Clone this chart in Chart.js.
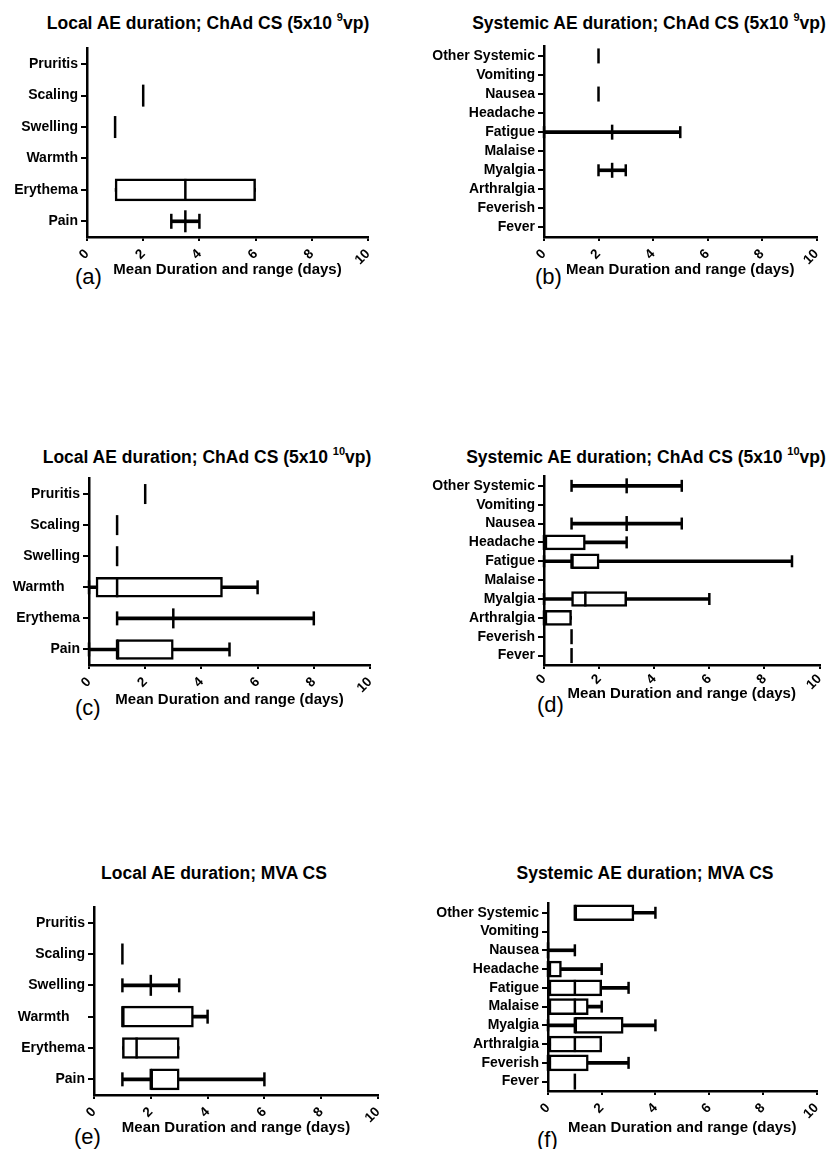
<!DOCTYPE html>
<html>
<head>
<meta charset="utf-8">
<script src="https://cdn.jsdelivr.net/npm/chart.js@4.4.0/dist/chart.umd.min.js"></script>
<style>
body { margin:0; width:833px; height:1149px; background:#fff; position:relative; overflow:hidden; font-family:"Liberation Sans", Arial, sans-serif; }
canvas { position:absolute; }
.title { position:absolute; width:440px; text-align:center; font-weight:bold; font-size:17.5px; line-height:20px; white-space:nowrap; color:#000; }
.title sup { font-size:11px; position:relative; top:-1px; }
.letter { position:absolute; font-size:22px; line-height:24px; color:#000; }
</style>
</head>
<body>

<div class="title" style="left:-12px;top:8px">Local AE duration; ChAd CS (5x10 <sup>9</sup>vp)</div>
<div class="title" style="left:429px;top:8px">Systemic AE duration; ChAd CS (5x10 <sup>9</sup>vp)</div>
<div class="title" style="left:-13px;top:442px">Local AE duration; ChAd CS (5x10 <sup>10</sup>vp)</div>
<div class="title" style="left:426px;top:442px">Systemic AE duration; ChAd CS (5x10 <sup>10</sup>vp)</div>
<div class="title" style="left:-6px;top:863px">Local AE duration; MVA CS</div>
<div class="title" style="left:425px;top:863px">Systemic AE duration; MVA CS</div>

<div class="letter" style="left:75px;top:265px">(a)</div>
<div class="letter" style="left:535px;top:265px">(b)</div>
<div class="letter" style="left:75px;top:696px">(c)</div>
<div class="letter" style="left:537px;top:693px">(d)</div>
<div class="letter" style="left:74px;top:1125px">(e)</div>
<div class="letter" style="left:537px;top:1128px">(f)</div>

<canvas id="a"></canvas>
<canvas id="b"></canvas>
<canvas id="c"></canvas>
<canvas id="d"></canvas>
<canvas id="e"></canvas>
<canvas id="f"></canvas>

<script>
const localCats = ['Pruritis', 'Scaling', 'Swelling', 'Warmth', 'Erythema', 'Pain'];
const localCatsGap = ['Pruritis', 'Scaling', 'Swelling', 'Warmth    ', 'Erythema', 'Pain'];
const systemicCats = ['Other Systemic', 'Vomiting', 'Nausea', 'Headache', 'Fatigue', 'Malaise', 'Myalgia', 'Arthralgia', 'Feverish', 'Fever'];
const xTicks = [0, 2, 4, 6, 8, 10];

// each row: [min, q1, median, q3, max], null when nothing reported
const localChAd9 = [null, [2, 2, 2, 2, 2], [1, 1, 1, 1, 1], null, [1, 1, 3.5, 6, 6], [3, 3.5, 3.5, 3.5, 4]];
const systemicChAd9 = [[2, 2, 2, 2, 2], null, [2, 2, 2, 2, 2], null, [0, 2.5, 2.5, 2.5, 5], null, [2, 2.5, 2.5, 2.5, 3], null, null, null];
const localChAd10 = [[2, 2, 2, 2, 2], [1, 1, 1, 1, 1], [1, 1, 1, 1, 1], [0, 0.25, 1, 4.75, 6], [1, 3, 3, 3, 8], [0, 1, 1, 3, 5]];
const systemicChAd10 = [[1, 3, 3, 3, 5], null, [1, 3, 3, 3, 5], [0, 0, 0, 1.5, 3], [0, 1, 1, 2, 9], null, [0, 1, 1.5, 3, 6], [0, 0, 0, 1, 1], [1, 1, 1, 1, 1], [1, 1, 1, 1, 1]];
const localMVA = [null, [1, 1, 1, 1, 1], [1, 2, 2, 2, 3], [1, 1, 1, 3.5, 4], [1, 1, 1.5, 3, 3], [1, 2, 2, 3, 6]];
const systemicMVA = [[1, 1, 1, 3.2, 4], null, [0, 0, 0, 0, 1], [0, 0, 0, 0.5, 2], [0, 0, 1, 2, 3], [0, 0, 1, 1.5, 2], [0, 1, 1, 2.8, 4], [0, 0, 1, 2, 2], [0, 0, 0, 1.5, 3], [1, 1, 1, 1, 1]];

Chart.defaults.font.family = '"Liberation Sans", Arial, sans-serif';
Chart.defaults.font.weight = 'bold';
Chart.defaults.color = '#000';

const panels = [
  {id: 'a', cats: localCats, rows: localChAd9, left: 0, top: 35, w: 400, h: 246, yW: 87, xH: 44, tp: 5, right: 32, box: 22, med: 11, cap: 7.5},
  {id: 'b', cats: systemicCats, rows: systemicChAd9, left: 415, top: 35, w: 418, h: 246, yW: 129, xH: 44, tp: 5, right: 9, box: 15, med: 7.5, cap: 6},
  {id: 'c', cats: localCatsGap, rows: localChAd10, left: 0, top: 466, w: 400, h: 245, yW: 89, xH: 46, tp: 5, right: 30, box: 20, med: 10, cap: 7},
  {id: 'd', cats: systemicCats, rows: systemicChAd10, left: 415, top: 465, w: 418, h: 240, yW: 129, xH: 40, tp: 2, right: 8, box: 15, med: 7.5, cap: 6},
  {id: 'e', cats: localCatsGap, rows: localMVA, left: 0, top: 894, w: 400, h: 245, yW: 94, xH: 44, tp: 5, right: 22, box: 21, med: 10.5, cap: 7},
  {id: 'f', cats: systemicCats, rows: systemicMVA, left: 415, top: 892, w: 418, h: 247, yW: 133, xH: 48, tp: 5, right: 5, box: 16, med: 8, cap: 6}
];

function drawPanel(p) {
  const cv = document.getElementById(p.id);
  cv.width = p.w; cv.height = p.h;
  cv.style.left = p.left + 'px'; cv.style.top = p.top + 'px';

  const whiskers = p.rows.map(r => r ? [r[0], r[4]] : null);
  const boxes = p.rows.map(r => r && r[3] > r[1] ? [r[1], r[3]] : null);
  const medians = [], caps = [];
  p.rows.forEach((r, i) => {
    if (!r) return;
    medians.push({x: r[2], y: p.cats[i]});
    if (r[0] < r[1]) caps.push({x: r[0], y: p.cats[i]});
    if (r[4] > r[3]) caps.push({x: r[4], y: p.cats[i]});
  });

  new Chart(cv, {
    type: 'bar',
    data: {
      labels: p.cats,
      datasets: [
        {data: whiskers, backgroundColor: '#000', barThickness: 3, grouped: false, order: 3, clip: false},
        {data: boxes, backgroundColor: '#fff', borderColor: '#000', borderWidth: 2.5, borderSkipped: false,
         barThickness: p.box, grouped: false, order: 2, clip: false},
        {type: 'line', data: caps, showLine: false, pointStyle: 'line', rotation: 90, radius: p.cap,
         borderColor: '#000', borderWidth: 2.5, order: 1, clip: false},
        {type: 'line', data: medians, showLine: false, pointStyle: 'line', rotation: 90, radius: p.med,
         borderColor: '#000', borderWidth: 2.5, order: 0, clip: false}
      ]
    },
    options: {
      indexAxis: 'y',
      responsive: false,
      animation: false,
      events: [],
      layout: {padding: {left: 0, right: p.right, top: 10, bottom: 0}},
      plugins: {legend: {display: false}, tooltip: {enabled: false}},
      scales: {
        x: {
          type: 'linear', min: 0, max: 10,
          afterBuildTicks: axis => { axis.ticks = xTicks.map(v => ({value: v})); },
          afterFit: axis => { axis.height = p.xH; },
          ticks: {minRotation: 45, maxRotation: 45, autoSkip: false, padding: p.tp, font: {size: 13.5, weight: 'bold'}},
          grid: {drawOnChartArea: false, drawTicks: true, tickLength: 4, color: '#000', lineWidth: 2},
          border: {display: true, color: '#000', width: 2.5},
          title: {display: true, text: 'Mean Duration and range (days)', font: {size: 15, weight: 'bold'}, padding: {top: 0, bottom: 2}}
        },
        y: {
          type: 'category', offset: true,
          afterFit: axis => { axis.width = p.yW; },
          ticks: {autoSkip: false, padding: 3, font: {size: 14, weight: 'bold'}},
          grid: {offset: false, drawOnChartArea: false, drawTicks: true, tickLength: 6, color: '#000', lineWidth: 2},
          border: {display: true, color: '#000', width: 2.5}
        }
      }
    }
  });
}

panels.forEach(drawPanel);
</script>
</body>
</html>
